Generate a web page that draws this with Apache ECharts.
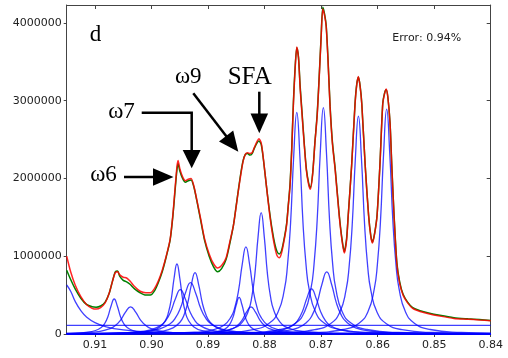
<!DOCTYPE html>
<html><head><meta charset="utf-8">
<script src="https://cdn.jsdelivr.net/npm/echarts/dist/echarts.min.js"></script>
<style>html,body{margin:0;padding:0;background:#fff}#c{width:508px;height:358px}</style>
</head><body><div id="c"></div>
<script>
// y values are given in millions (UNIT) ; x is chemical shift (ppm)
const UNIT = 1e6;
const xTickLabels = ['0.91','0.90','0.89','0.88','0.87','0.86','0.85','0.84'];
const yTickLabels = ['0','1000000','2000000','3000000','4000000'];

const measured = [[0.9150,0.82],[0.9143,0.70],[0.9135,0.58],[0.9125,0.46],[0.9115,0.38],[0.9105,0.35],[0.9098,0.345],[0.9090,0.36],[0.9082,0.41],[0.9075,0.52],[0.9069,0.68],[0.9064,0.80],[0.9060,0.81],[0.9056,0.74],[0.9050,0.69],[0.9044,0.67],[0.9038,0.64],[0.9030,0.58],[0.9020,0.53],[0.9010,0.50],[0.9002,0.50],[0.8995,0.55],[0.8988,0.66],[0.8981,0.80],[0.8974,0.99],[0.8967,1.21],[0.8962,1.53],[0.8958,1.87],[0.8955,2.11],[0.8953,2.19],[0.8950,2.10],[0.8945,2.00],[0.8940,1.95],[0.8935,1.97],[0.8930,1.98],[0.8925,1.89],[0.8920,1.72],[0.8913,1.46],[0.8906,1.20],[0.8898,1.00],[0.8890,0.86],[0.8883,0.80],[0.8876,0.84],[0.8868,0.96],[0.8861,1.18],[0.8855,1.40],[0.8850,1.66],[0.8846,1.87],[0.8842,2.07],[0.8838,2.23],[0.8834,2.31],[0.8830,2.32],[0.8826,2.30],[0.8822,2.32],[0.8818,2.39],[0.8813,2.46],[0.8810,2.48],[0.8806,2.44],[0.8802,2.24],[0.8797,1.92],[0.8792,1.62],[0.8787,1.36],[0.8782,1.16],[0.8778,1.06],[0.8774,1.03],[0.8770,1.07],[0.8765,1.24],[0.8761,1.42],[0.8758,1.66],[0.8755,1.92],[0.8752,2.38],[0.8749,2.98],[0.8746,3.42],[0.8743,3.68],[0.8740,3.56],[0.8737,3.18],[0.8734,2.88],[0.8730,2.47],[0.8726,2.12],[0.8722,1.94],[0.8719,1.88],[0.8715,2.06],[0.8711,2.46],[0.8707,2.82],[0.8704,3.22],[0.8700,3.82],[0.8697,4.20],[0.8694,4.12],[0.8691,3.97],[0.8688,3.57],[0.8684,2.92],[0.8680,2.47],[0.8675,2.12],[0.8668,1.54],[0.8663,1.22],[0.8659,1.06],[0.8655,1.22],[0.8652,1.53],[0.8646,2.17],[0.8640,2.96],[0.8637,3.21],[0.8634,3.30],[0.8631,3.19],[0.8628,2.96],[0.8622,2.17],[0.8616,1.53],[0.8612,1.26],[0.8609,1.18],[0.8605,1.31],[0.8601,1.53],[0.8596,2.17],[0.8591,2.96],[0.8588,3.09],[0.8585,3.14],[0.8582,3.05],[0.8578,2.71],[0.8575,2.18],[0.8571,1.54],[0.8566,0.92],[0.8561,0.67],[0.8555,0.51],[0.8547,0.41],[0.8538,0.34],[0.8525,0.30],[0.8510,0.27],[0.8490,0.24],[0.8465,0.21],[0.8440,0.195],[0.8420,0.185],[0.8400,0.175]];

const fitted = [[0.9150,1.00],[0.9143,0.80],[0.9135,0.63],[0.9125,0.48],[0.9115,0.38],[0.9105,0.33],[0.9098,0.32],[0.9090,0.34],[0.9082,0.40],[0.9075,0.52],[0.9069,0.68],[0.9064,0.79],[0.9060,0.80],[0.9056,0.76],[0.9050,0.73],[0.9044,0.72],[0.9038,0.68],[0.9030,0.61],[0.9020,0.55],[0.9010,0.53],[0.9002,0.53],[0.8995,0.58],[0.8988,0.68],[0.8981,0.82],[0.8974,1.00],[0.8967,1.22],[0.8962,1.55],[0.8958,1.90],[0.8955,2.15],[0.8953,2.23],[0.8950,2.13],[0.8945,2.02],[0.8940,1.97],[0.8935,1.99],[0.8930,2.00],[0.8925,1.90],[0.8920,1.73],[0.8913,1.48],[0.8906,1.22],[0.8898,1.03],[0.8890,0.90],[0.8883,0.85],[0.8876,0.88],[0.8868,0.98],[0.8861,1.20],[0.8855,1.40],[0.8850,1.65],[0.8846,1.86],[0.8842,2.05],[0.8838,2.22],[0.8834,2.31],[0.8830,2.33],[0.8826,2.32],[0.8822,2.33],[0.8818,2.40],[0.8813,2.48],[0.8810,2.51],[0.8806,2.46],[0.8802,2.25],[0.8797,1.92],[0.8792,1.60],[0.8787,1.33],[0.8782,1.12],[0.8778,1.01],[0.8774,0.98],[0.8770,1.04],[0.8765,1.22],[0.8761,1.40],[0.8758,1.65],[0.8755,1.90],[0.8752,2.35],[0.8749,2.95],[0.8746,3.40],[0.8743,3.69],[0.8740,3.55],[0.8737,3.15],[0.8734,2.85],[0.8730,2.45],[0.8726,2.10],[0.8722,1.92],[0.8719,1.86],[0.8715,2.05],[0.8711,2.45],[0.8707,2.80],[0.8704,3.20],[0.8700,3.80],[0.8697,4.18],[0.8694,4.10],[0.8691,3.95],[0.8688,3.55],[0.8684,2.90],[0.8680,2.45],[0.8675,2.10],[0.8668,1.52],[0.8663,1.20],[0.8659,1.04],[0.8655,1.20],[0.8652,1.52],[0.8646,2.16],[0.8640,2.95],[0.8637,3.20],[0.8634,3.31],[0.8631,3.18],[0.8628,2.95],[0.8622,2.16],[0.8616,1.52],[0.8612,1.25],[0.8609,1.17],[0.8605,1.30],[0.8601,1.52],[0.8596,2.16],[0.8591,2.95],[0.8588,3.08],[0.8585,3.15],[0.8582,3.05],[0.8578,2.70],[0.8575,2.16],[0.8571,1.52],[0.8566,0.90],[0.8561,0.65],[0.8555,0.50],[0.8547,0.40],[0.8538,0.33],[0.8525,0.29],[0.8510,0.26],[0.8490,0.23],[0.8465,0.20],[0.8440,0.19],[0.8420,0.18],[0.8400,0.17]];

// individual fitted components (blue)
const comp01 = [[0.915,.63],[0.9143,.55],[0.9135,.42],[0.9125,.30],[0.9115,.22],[0.910,.147],[0.908,.093],[0.905,.054],[0.900,.026],[0.893,.013],[0.880,.006],[0.840,.001]];
const comp02 = [[0.915,.008],[0.9143,.009],[0.91155,.021],[0.9099,.045],[0.9088,.09],[0.90825,.138],[0.9077,.225],[0.90715,.36],[0.9066,.45],[0.90605,.36],[0.9055,.225],[0.90495,.138],[0.9044,.09],[0.9033,.045],[0.90165,.021],[0.8989,.009],[0.8934,.003],[0.840,0]];
const comp03 = [[0.915,.009],[0.9118,.0165],[0.9091,.035],[0.9073,.07],[0.9064,.108],[0.9055,.175],[0.9046,.28],[0.9037,.35],[0.9028,.28],[0.9019,.175],[0.9010,.108],[0.9001,.07],[0.8983,.035],[0.8956,.0165],[0.8911,.007],[0.8821,.0024],[0.840,.0003]];
const comp04 = [[0.915,.0024],[0.9075,.0062],[0.9025,.018],[0.900,.042],[0.8985,.09],[0.8975,.18],[0.897,.277],[0.8965,.45],[0.896,.72],[0.8955,.90],[0.895,.72],[0.8945,.45],[0.894,.277],[0.8935,.18],[0.8925,.09],[0.891,.042],[0.8885,.018],[0.8835,.0062],[0.84,.0003]];
const comp05 = [[0.915,.004],[0.9068,.0114],[0.90255,.027],[0.900,.057],[0.8983,.114],[0.89745,.175],[0.8966,.285],[0.89575,.456],[0.8949,.57],[0.89405,.456],[0.8932,.285],[0.89235,.175],[0.8915,.114],[0.8898,.057],[0.88725,.027],[0.883,.0114],[0.8745,.0039],[0.84,.0005]];
const comp06 = [[0.915,.0044],[0.9057,.0132],[0.9012,.031],[0.8985,.066],[0.8967,.132],[0.8958,.203],[0.8949,.33],[0.894,.528],[0.8931,.66],[0.8922,.528],[0.8913,.33],[0.8904,.203],[0.8895,.132],[0.8877,.066],[0.885,.031],[0.8805,.0132],[0.8715,.0046],[0.84,.0008]];
const comp07 = [[0.915,.0026],[0.9079,.0055],[0.9014,.0158],[0.89815,.037],[0.8962,.079],[0.8949,.158],[0.89425,.243],[0.8936,.395],[0.89295,.632],[0.8923,.79],[0.89165,.632],[0.891,.395],[0.89035,.243],[0.8897,.158],[0.8884,.079],[0.88645,.037],[0.8832,.0158],[0.8767,.0055],[0.84,.0005]];
const comp08 = [[0.915,.0005],[0.8965,.0032],[0.8915,.0094],[0.889,.022],[0.8875,.047],[0.8865,.094],[0.886,.145],[0.8855,.235],[0.885,.376],[0.8845,.47],[0.884,.376],[0.8835,.235],[0.883,.145],[0.8825,.094],[0.8815,.047],[0.88,.022],[0.8775,.0094],[0.8725,.0032],[0.84,.0002]];
const comp09 = [[0.915,.0019],[0.8989,.0077],[0.8924,.0224],[0.88915,.053],[0.8872,.112],[0.8859,.224],[0.88525,.345],[0.8846,.56],[0.88395,.896],[0.8833,1.12],[0.88265,.896],[0.882,.56],[0.88135,.345],[0.8807,.224],[0.8794,.112],[0.87745,.053],[0.8742,.0224],[0.8677,.0077],[0.84,.001]];
const comp10 = [[0.915,.0008],[0.9016,.0024],[0.8936,.007],[0.8896,.0165],[0.8872,.035],[0.8856,.07],[0.8848,.108],[0.884,.175],[0.8832,.28],[0.8824,.35],[0.8816,.28],[0.8808,.175],[0.88,.108],[0.8792,.07],[0.8776,.035],[0.8752,.0165],[0.8712,.007],[0.8632,.0024],[0.84,.0005]];
const comp11 = [[0.915,.0016],[0.8938,.0108],[0.8883,.0312],[0.88555,.0735],[0.8839,.156],[0.8828,.312],[0.88225,.48],[0.8817,.78],[0.88115,1.248],[0.8806,1.56],[0.88005,1.248],[0.8795,.78],[0.87895,.48],[0.8784,.312],[0.8773,.156],[0.87565,.0735],[0.8729,.0312],[0.8674,.0108],[0.84,.0011]];
const comp12 = [[0.915,.0021],[0.8875,.0197],[0.882,.057],[0.87925,.134],[0.8776,.285],[0.8765,.57],[0.87595,.877],[0.8754,1.425],[0.87485,2.28],[0.8743,2.85],[0.87375,2.28],[0.8732,1.425],[0.87265,.877],[0.8721,.57],[0.871,.285],[0.86935,.134],[0.8666,.057],[0.8611,.0197],[0.84,.0029]];
const comp13 = [[0.915,.0008],[0.8909,.004],[0.8829,.0116],[0.8789,.0273],[0.8765,.058],[0.8749,.116],[0.8741,.178],[0.8733,.29],[0.8725,.464],[0.8717,.58],[0.8709,.464],[0.8701,.29],[0.8693,.178],[0.8685,.116],[0.8669,.058],[0.8645,.0273],[0.8605,.0116],[0.8525,.004],[0.84,.0015]];
const comp14 = [[0.915,.0017],[0.8828,.02],[0.8773,.058],[0.87455,.137],[0.8729,.291],[0.8718,.582],[0.87125,.895],[0.8707,1.455],[0.87015,2.328],[0.8696,2.91],[0.86905,2.328],[0.8685,1.455],[0.86795,.895],[0.8674,.582],[0.8663,.291],[0.86465,.137],[0.8619,.058],[0.8564,.02],[0.84,.004]];
const comp15 = [[0.915,.0011],[0.8894,.0055],[0.8809,.016],[0.87665,.0377],[0.8741,.08],[0.8724,.16],[0.87155,.246],[0.8707,.40],[0.86985,.64],[0.869,.80],[0.86815,.64],[0.8673,.40],[0.86645,.246],[0.8656,.16],[0.8639,.08],[0.86135,.0377],[0.8571,.016],[0.8486,.0055],[0.84,.0027]];
const comp16 = [[0.915,.0013],[0.8766,.0193],[0.8711,.056],[0.86835,.132],[0.8667,.28],[0.8656,.56],[0.86505,.862],[0.8645,1.40],[0.86395,2.24],[0.8634,2.80],[0.86285,2.24],[0.8623,1.40],[0.86175,.862],[0.8612,.56],[0.8601,.28],[0.85845,.132],[0.8557,.056],[0.8502,.0193],[0.84,.0062]];
const comp17 = [[0.915,.0011],[0.8716,.02],[0.8661,.0578],[0.86335,.136],[0.8617,.289],[0.8606,.578],[0.86005,.889],[0.8595,1.445],[0.85895,2.312],[0.8584,2.89],[0.85785,2.312],[0.8573,1.445],[0.85675,.889],[0.8562,.578],[0.8551,.289],[0.85345,.136],[0.8507,.0578],[0.8452,.02],[0.84,.0103]];
const baseline = [[0.915,0.11],[0.84,0.11]];

const components = [comp01,comp02,comp03,comp04,comp05,comp06,comp07,comp08,comp09,comp10,comp11,comp12,comp13,comp14,comp15,comp16,comp17,baseline];

const scaled = arr => arr.map(p => [p[0], p[1] * UNIT]);

const series = [];
components.forEach(c => series.push({
  type:'line', data: scaled(c), showSymbol:false, smooth:0.5, silent:true, z:2,
  lineStyle:{color:'#0000ff', width:1.3, opacity:0.75}
}));
series.push({type:'line', data: scaled(measured), showSymbol:false, smooth:0.25, silent:true, z:3,
  lineStyle:{color:'#008000', width:1.5}});
series.push({type:'line', data: scaled(fitted), showSymbol:false, smooth:0.25, silent:true, z:4,
  lineStyle:{color:'#ff0000', width:1.5, opacity:0.85}});

const axisCol = '#444';
const labelFont = {color:'#222', fontFamily:'DejaVu Sans', fontSize:11};
const chart = echarts.init(document.getElementById('c'), null, {renderer:'canvas'});
chart.setOption({
  animation:false,
  backgroundColor:'#fff',
  grid:{left:66.7, right:17.3, top:5, bottom:24, outerBoundsMode:'none', containLabel:false},
  xAxis:[
    {type:'value', min:0.84, max:0.915, interval:0.01, inverse:true, position:'bottom',
     axisLine:{show:true, onZero:false, lineStyle:{color:axisCol, width:1}},
     axisTick:{show:true, inside:false, length:3, lineStyle:{color:axisCol}},
     axisLabel:Object.assign({show:true, margin:6, showMaxLabel:false, showMinLabel:true,
       formatter:v => { const s = v.toFixed(2); return xTickLabels.indexOf(s) >= 0 ? s : ''; }}, labelFont),
     splitLine:{show:false}},
    {type:'value', min:0.84, max:0.915, interval:0.01, inverse:true, position:'top',
     axisLine:{show:true, onZero:false, lineStyle:{color:axisCol, width:1}},
     axisTick:{show:true, inside:true, length:4, lineStyle:{color:axisCol}},
     axisLabel:{show:false}, splitLine:{show:false}}
  ],
  yAxis:[
    {type:'value', min:0, max:4230000, interval:1000000, position:'left',
     axisLine:{show:true, onZero:false, lineStyle:{color:axisCol, width:1}},
     axisTick:{show:true, inside:false, length:3, lineStyle:{color:axisCol}},
     axisLabel:Object.assign({show:true, margin:5, showMaxLabel:false,
       formatter:v => { const s = String(Math.round(v)); return yTickLabels.indexOf(s) >= 0 ? s : ''; }}, labelFont),
     splitLine:{show:false}},
    {type:'value', min:0, max:4230000, interval:1000000, position:'right',
     axisLine:{show:true, onZero:false, lineStyle:{color:axisCol, width:1}},
     axisTick:{show:true, inside:true, length:4, lineStyle:{color:axisCol}},
     axisLabel:{show:false}, splitLine:{show:false}}
  ],
  series: series,
  graphic:[
    {type:'text', x:95.5, y:35, z:10, style:{text:'d', font:'23px "Liberation Serif"', fill:'#000', align:'center', verticalAlign:'middle'}},
    {type:'text', x:426.7, y:37.7, z:10, style:{text:'Error: 0.94%', font:'11px "DejaVu Sans"', fill:'#222', align:'center', verticalAlign:'middle'}},
    {type:'text', x:103.5, y:175, z:10, style:{text:'ω6', font:'23px "Liberation Serif"', fill:'#000', align:'center', verticalAlign:'middle'}},
    {type:'text', x:121.5, y:112.2, z:10, style:{text:'ω7', font:'23px "Liberation Serif"', fill:'#000', align:'center', verticalAlign:'middle'}},
    {type:'text', x:188.3, y:76.5, z:10, style:{text:'ω9', font:'23px "Liberation Serif"', fill:'#000', align:'center', verticalAlign:'middle'}},
    {type:'text', x:249.7, y:77.5, z:10, style:{text:'SFA', font:'25px "Liberation Serif"', fill:'#000', align:'center', verticalAlign:'middle'}},
    // omega6 arrow
    {type:'polyline', z:10, shape:{points:[[124,177],[156,177]]}, style:{stroke:'#000', lineWidth:2.5, fill:null}},
    {type:'polygon', z:10, shape:{points:[[153,168.3],[173.5,177],[153,185.7]]}, style:{fill:'#000'}},
    // omega7 arrow
    {type:'polyline', z:10, shape:{points:[[141.7,112.7],[191.7,112.7],[191.7,152]]}, style:{stroke:'#000', lineWidth:2.5, fill:null}},
    {type:'polygon', z:10, shape:{points:[[182.7,150],[200.7,150],[191.7,168.3]]}, style:{fill:'#000'}},
    // omega9 arrow
    {type:'polyline', z:10, shape:{points:[[193.3,93.3],[227.5,137.7]]}, style:{stroke:'#000', lineWidth:2.5, fill:null}},
    {type:'polygon', z:10, shape:{points:[[233.2,130.4],[238.3,151.7],[219,141.4]]}, style:{fill:'#000'}},
    // SFA arrow
    {type:'polyline', z:10, shape:{points:[[259.3,91.7],[259.3,116]]}, style:{stroke:'#000', lineWidth:2.5, fill:null}},
    {type:'polygon', z:10, shape:{points:[[250.5,113.5],[268.1,113.5],[259.3,133.3]]}, style:{fill:'#000'}}
  ]
});
</script>
</body></html>
